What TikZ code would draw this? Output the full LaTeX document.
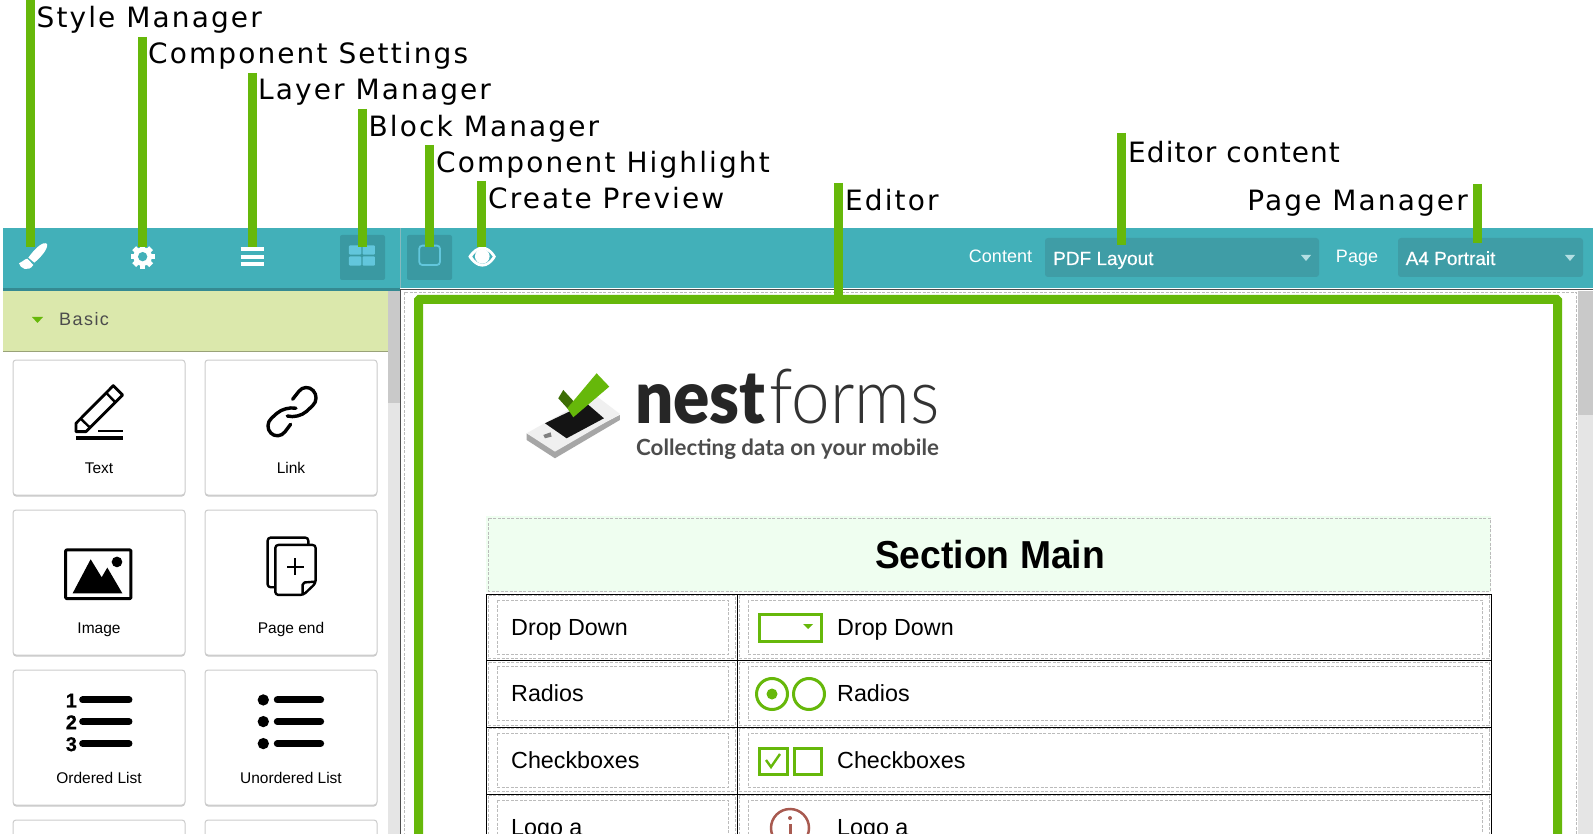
\documentclass[tikz,border=0pt]{standalone}
\usepackage{fontspec}
\setmainfont{Liberation Sans}
\newfontfamily\tagfont[LetterSpace=7.5]{DejaVu Sans}
\newfontfamily\tagtightfont[LetterSpace=3.8]{DejaVu Sans}
\newfontfamily\basicfont[LetterSpace=8]{Liberation Sans}
\newfontfamily\mediumfont[FakeBold=0.35]{Liberation Sans}
\newfontfamily\logolight{Lato Light}
\newfontfamily\logoblack{Lato Black}
\newfontfamily\logofont{Lato}
\usetikzlibrary{positioning,shadows}

\definecolor{teal}{HTML}{42B0B9}
\definecolor{tealdark}{HTML}{358A92}
\definecolor{tealbutton}{HTML}{3A99A2}
\definecolor{tealselect}{HTML}{3F9DA6}
\definecolor{skyicon}{HTML}{62C6DC}
\definecolor{tagcolor}{HTML}{66B80A}
\definecolor{headgreen}{HTML}{DBE8AC}
\definecolor{sectiongreen}{HTML}{EFFEF0}
\definecolor{cellgray}{HTML}{BBBBBB}
\definecolor{infored}{HTML}{A85A50}

\tikzset{
  tagbar/.style={draw=tagcolor,line width=9pt},
  taglabel/.style={anchor=base west,inner sep=0pt,font=\tagfont\fontsize{28}{30}\selectfont},
  cardbox/.style={draw=black!20,fill=white,line width=1pt,rounded corners=3pt,minimum width=172pt,
    drop shadow={shadow xshift=0pt,shadow yshift=-1.5pt,fill=black!35,opacity=.6}},
  cardlabel/.style={anchor=base,inner sep=0pt,font=\fontsize{15.5}{18}\selectfont},
  celltext/.style={anchor=base west,inner sep=0pt,font=\fontsize{23.3}{26}\selectfont},
  celldash/.style={draw=cellgray,line width=.7pt,dash pattern=on 3pt off 1.5pt},
  widget/.style={draw=tagcolor,line width=3pt},
  barlabel/.style={anchor=base,inner sep=0pt,text=white,font=\fontsize{18}{20}\selectfont},
  selecttext/.style={anchor=base west,inner sep=0pt,text=white,font=\mediumfont\fontsize{19}{22}\selectfont},
  zoomed/.style={x=.3333pt,y=-.3333pt},
}

\begin{document}
\begin{tikzpicture}[x=1pt,y=-1pt]
  \useasboundingbox (0,0) rectangle (1593,834);
  \clip (0,0) rectangle (1593,834);
  \fill[white] (0,0) rectangle (1593,834);

  % toolbar
  \fill[teal] (3,228) rectangle (1593,288);
  \fill[tealdark] (3,288) rectangle (400,291);
  \draw[black!70,line width=.8pt] (400,289) -- (1593,289);
  \draw[tealdark!60,line width=.6pt] (400,228) -- (400,288);
  \fill[tealbutton,rounded corners=2pt] (340,235) rectangle (385,280);
  \fill[tealbutton,rounded corners=2pt] (407,235) rectangle (452,280);
  \begin{scope}[zoomed,shift={(0,660)}]
    % brush
    \fill[white] (141,72) .. controls (130,62) and (105,85) .. (85,113) -- (103,128) .. controls (125,110) and (145,85) .. (141,72) -- cycle;
    \fill[white] (82,116) .. controls (70,118) and (68,128) .. (57,130) .. controls (60,145) and (85,158) .. (100,135) -- cycle;
    % gear
    \foreach \a in {0,45,...,315}
      \draw[white,line width=5.5pt] (428,110) -- ++(\a:36);
    \fill[white] (428,110) circle (28);
    \fill[teal] (428,110) circle (14);
    % menu
    \foreach \y in {87,110,131}
      \draw[white,line width=4pt] (722,\y) -- (793,\y);
    % grid
    \foreach \x/\y in {1047/76,1088/76,1047/109,1088/109}
      \fill[skyicon,rounded corners=1pt] (\x,\y) rectangle ++(37,28);
    % highlight
    \draw[skyicon,line width=1.8pt,rounded corners=3pt] (1258,77) rectangle (1320,135);
    % eye
    \fill[white] (1405,110) .. controls (1430,70) and (1465,70) .. (1488,110) .. controls (1465,150) and (1430,150) .. (1405,110) -- cycle;
    \fill[teal] (1417,110) .. controls (1435,82) and (1460,82) .. (1478,110) .. controls (1460,138) and (1435,138) .. (1417,110) -- cycle;
    \fill[white] (1447,109) circle (22);
  \end{scope}

  \node[barlabel] (contentlabel) at (1000.5,263) {Content};
  \fill[tealselect,rounded corners=3pt] (1045,238) rectangle (1319,277);
  \node[selecttext] (contentvalue) at (1053,265) {PDF Layout};
  \fill[white!60!teal] (1301,255) -- (1311,255) -- (1306,261) -- cycle;
  \node[barlabel] (pagelabel) at (1357,263) {Page};
  \fill[tealselect,rounded corners=3pt] (1398,238) rectangle (1583,277);
  \node[selecttext] (pagevalue) at (1405.5,265) {A4 Portrait};
  \fill[white!60!teal] (1565,255) -- (1575,255) -- (1570,261) -- cycle;

  % left panel
  \fill[black!10] (388,291) rectangle (400,834);
  \fill[black!21] (388,291) rectangle (400,403);
  \fill[headgreen] (3,291) rectangle (388,351);
  \draw[headgreen!70!black,line width=1pt] (3,351) -- (388,351);
  \fill[tagcolor] (32,317) -- (43,317) -- (37.5,323) -- cycle;
  \node[inner sep=0pt,anchor=base west,text=black!70,font=\basicfont\fontsize{18}{20}\selectfont] (basic) at (59,326) {Basic};
  \draw[black!70,line width=.8pt] (400,289) -- (400,834);

  \foreach \nm/\cx/\cy/\ch/\ly/\txt in {text/99/427.5/135/473/Text, link/291/427.5/135/473/Link,
      image/99/582.5/145/633/Image, pageend/291/582.5/145/633/Page end,
      ordered/99/737.5/135/783/Ordered List, unordered/291/737.5/135/783/Unordered List,
      extraa/99/890/140/0/{}, extrab/291/890/140/0/{}} {
    \node[cardbox,minimum height=\ch pt] (\nm) at (\cx,\cy) {};
    \node[cardlabel] (\nm label) at (\cx,\ly) {\txt};
  }

  % card icons
  \begin{scope}[zoomed,shift={(0,660)},line join=round]
    \draw[line width=2.8pt] (228,610) -- (340,497) -- (368,525) -- (258,635) -- (228,635) -- cycle;
    \draw[line width=2.4pt] (243,597) -- (270,623) (318,518) -- (346,547);
    \draw[line width=2.8pt] (295,633) -- (370,633);
    \draw[line width=3.4pt] (228,654) -- (370,654);
    \draw[line width=3.4pt,rounded corners=11pt,line cap=round] (888,565) -- (855,558) -- (790,617) -- (835,662) -- (872,613);
    \draw[line width=3.4pt,rounded corners=11pt,line cap=round] (862,588) -- (895,597) -- (962,535) -- (917,488) -- (878,538);
  \end{scope}
  \begin{scope}[zoomed,shift={(0,1500)},line join=round]
    \draw[line width=3pt,rounded corners=1pt] (197,150) rectangle (393,296);
    \fill (351,186) circle (16);
    \fill (218,280) -- (272,178) -- (305,232) -- (322,203) -- (367,280) -- cycle;
    \draw[line width=2.4pt,rounded corners=3pt] (925,135) -- (925,113) -- (803,113) -- (803,262) -- (825,262);
    \draw[line width=2.4pt,rounded corners=3pt] (826,135) -- (947,135) -- (947,250) -- (910,285) -- (826,285) -- cycle;
    \draw[line width=2.4pt,rounded corners=2pt] (947,245) -- (908,248) -- (908,285);
    \draw[line width=2.2pt] (886,175) -- (886,225) (862,200) -- (911,200);
    \foreach \y/\d in {600/1,665/2,731/3} {
      \draw[line width=7pt,line cap=round] (248,\y) -- (387,\y);
      \node[inner sep=0pt,font=\mediumfont\bfseries\fontsize{20}{20}\selectfont] (order\d) at (214,\y+2) {\d};
      \fill (790,\y) circle (17);
      \draw[line width=7pt,line cap=round] (832,\y) -- (962,\y);
    }
  \end{scope}

  % editor area
  \fill[black!21] (1578,291) rectangle (1593,415);
  \fill[black!10] (1578,415) rectangle (1593,834);
  \draw[celldash] (404,840) -- (404,292) -- (1576,292) -- (1576,840);

  % logo
  \begin{scope}[zoomed,shift={(1440,1020)},line join=round]
    \fill[black!35] (140,280) -- (140,300) -- (225,355) -- (420,240) -- (420,225) -- (225,325) -- cycle;
    \fill[black!6] (140,280) -- (345,165) -- (420,222) -- (225,335) -- cycle;
    \fill[black!92] (195,250) -- (320,190) -- (372,235) -- (260,295) -- cycle;
    \fill[black!50] (190,285) -- (212,277) -- (215,290) -- (195,295) -- cycle;
    \fill[tagcolor!60!black] (235,175) -- (250,150) -- (282,185) -- (265,208) -- cycle;
    \fill[tagcolor] (262,205) -- (350,100) -- (388,140) -- (280,232) -- cycle;
  \end{scope}
  \node[anchor=base west,inner sep=0pt,xscale=.91,text=black!85,font=\logoblack\fontsize{74}{74}\selectfont] (nest) at (635,423) {nest};
  \node[anchor=base west,inner sep=0pt,xscale=.91,text=black!80,font=\logolight\fontsize{76}{76}\selectfont] (forms) at (769,423) {forms};
  \node[anchor=base west,inner sep=0pt,text=black!70,font=\logofont\bfseries\fontsize{22.3}{26}\selectfont] (slogan) at (636,455) {Collecting data on your mobile};

  % section header
  \fill[sectiongreen] (486,516) rectangle (1491,592);
  \draw[celldash] (488,518) rectangle (1490,591);
  \node[inner sep=0pt,xscale=.955,font=\bfseries\fontsize{39}{44}\selectfont] (section) at (990,555) {Section Main};

  % table
  \foreach \y/\nm/\lab in {594/drop/Drop Down, 660.5/radio/Radios, 727/check/Checkboxes, 794/logo/Logo a} {
    \draw[celldash] (488,\y+1.5) rectangle (735,\y+64.5);
    \draw[celldash] (497,\y+6) rectangle (728,\y+60);
    \draw[celldash] (739,\y+1.5) rectangle (1489,\y+64.5);
    \draw[celldash] (748,\y+6) rectangle (1482,\y+60);
    \node[celltext] (\nm left) at (511,\y+41) {\lab};
    \node[celltext] (\nm right) at (837,\y+41) {\lab};
    \draw[black,line width=1pt] (486,\y) -- (1491,\y);
  }
  \draw[black,line width=1pt] (486,594) -- (486,840);
  \draw[black,line width=1pt] (737.5,594) -- (737.5,840);
  \draw[black,line width=1pt] (1491,594) -- (1491,840);

  % widgets
  \draw[widget] (759.5,614) rectangle (821,641);
  \fill[tagcolor] (803,624) -- (813,624) -- (808,629) -- cycle;
  \draw[widget] (772,694) circle (15.5);
  \fill[tagcolor] (772,694) circle (5.5);
  \draw[widget] (809,694) circle (15.5);
  \draw[widget] (759.5,748) rectangle (787,774);
  \draw[widget] (794.5,748) rectangle (821,774);
  \draw[tagcolor,line width=2.4pt] (766,760) -- (771,767) -- (780,754);
  \draw[infored,line width=2.5pt] (790,828) circle (19);
  \fill[infored] (790,818) circle (2);
  \draw[infored,line width=3pt] (790,824) -- (790,840);

  % tags
  \draw[tagbar,line cap=round,rounded corners=1pt] (418.5,840) -- (418.5,299.5) -- (1557.5,299.5) -- (1557.5,840);
  \foreach \nm/\bx/\btop/\bend/\lx/\ly/\txt in {
      stylem/30.5/0/247/36.5/27.5/Style Manager,
      settings/142.5/37/247/148/64/Component Settings,
      layer/252.5/73/247/258/100/Layer Manager,
      block/362.5/109/247/368.5/136.5/Block Manager,
      highlight/429.5/145/247/436/173/Component Highlight,
      preview/481.5/181/247/488/209/Create Preview,
      editor/838/183/295/845/211/Editor} {
    \coordinate (\nm top) at (\bx,\btop);
    \coordinate (\nm end) at (\bx,\bend);
    \draw[tagbar] (\nm top) -- (\nm end);
    \node[taglabel] (\nm tag) at (\lx,\ly) {\txt};
  }
  \coordinate (content top) at (1121.5,133);
  \coordinate (content end) at (1121.5,245);
  \draw[tagbar] (content top) -- (content end);
  \node[taglabel,font=\tagtightfont\fontsize{28}{30}\selectfont] (content tag) at (1128,163) {Editor content};
  \coordinate (pagem top) at (1477.5,184);
  \coordinate (pagem end) at (1477.5,243);
  \draw[tagbar] (pagem top) -- (pagem end);
  \node[taglabel,anchor=base east] (pagem tag) at (1468,211) {Page Manager};
\end{tikzpicture}
\end{document}
